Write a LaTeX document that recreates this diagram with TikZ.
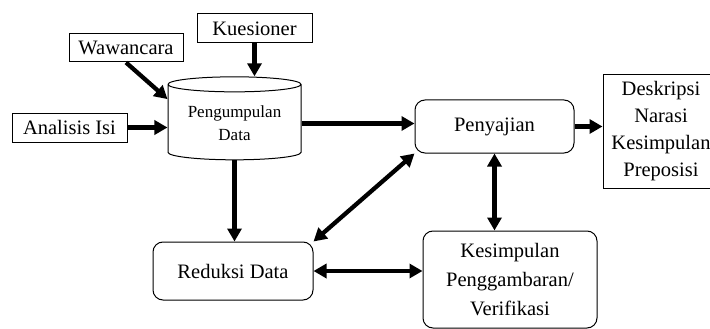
\documentclass[tikz,border=0pt]{standalone}
\usepackage{fontspec}
\setmainfont{Liberation Serif}
\usetikzlibrary{shapes,arrows.meta,positioning}

\begin{document}
\begin{tikzpicture}[x=1pt, y=-1pt,
block_plain/.style ={rectangle, draw=black, line width=1pt, fill=white, align=center, font=\fontsize{20.5}{24}\selectfont, inner sep=2pt},
block_round/.style ={rectangle, rounded corners=10pt, draw=black, line width=1pt, fill=white, align=center, font=\fontsize{20.5}{29}\selectfont},
block_store/.style ={cylinder, shape border rotate=90, aspect=0.15, draw=black, line width=1pt, fill=white, align=center, font=\fontsize{17}{23}\selectfont},
line/.style ={draw, line width=4.3pt, -{Triangle[length=13pt,width=14pt]}, shorten >=0pt},
line_both/.style ={line, {Triangle[length=13pt,width=14pt]}-{Triangle[length=13pt,width=14pt]}}]
  \useasboundingbox (0,0) rectangle (710,329);
  % sources of data - left column
    \node [block_plain, minimum width=115, minimum height=29] (kues) at (254.5,28.5) {Kuesioner};
    \node [block_plain, minimum width=114, minimum height=28] (waw) at (126,48) {Wawancara};
    \node [block_plain, minimum width=115, minimum height=29] (anal) at (69.5,127.5) {Analisis Isi};
  % data collection
    \node [block_store, minimum width=133, minimum height=83] (pd) at (234.5,123.5) {Pengumpulan\\Data};
  % analysis steps
    \node [block_round, minimum width=159, minimum height=53] (peny) at (494.5,126.5) {Penyajian};
    \node [block_round, minimum width=160, minimum height=58] (red) at (233,271) {Reduksi Data};
    \node [block_round, minimum width=174, minimum height=97] (kes) at (510,279.5) {Kesimpulan\\Penggambaran/\\Verifikasi};
  % output
    \node [block_plain, font=\fontsize{20.5}{27}\selectfont, minimum width=116, minimum height=113] (desk) at (661,131.5) {Deskripsi\\Narasi\\Kesimpulan\\Preposisi};
  % connecting nodes with paths
    \begin{scope}[every path/.style=line]
      \path (kues.south) -- (kues.south |- pd.north);
      \path (waw.south)  -- (pd.160);
      \path (anal.east)  -- (anal.east -| pd.west);
      \path (pd.east)    -- (pd.east -| peny.west);
      \path (pd.south)   -- (pd.south |- red.north);
      \path (peny.east)  -- (peny.east -| desk.west);
    \end{scope}
    \begin{scope}[every path/.style=line_both]
      \path (peny.south)      -- (peny.south |- kes.north);
      \path (red.north east)  -- (peny.south west);
      \path (red.east)        -- (red.east -| kes.west);
    \end{scope}
\end{tikzpicture}
\end{document}
